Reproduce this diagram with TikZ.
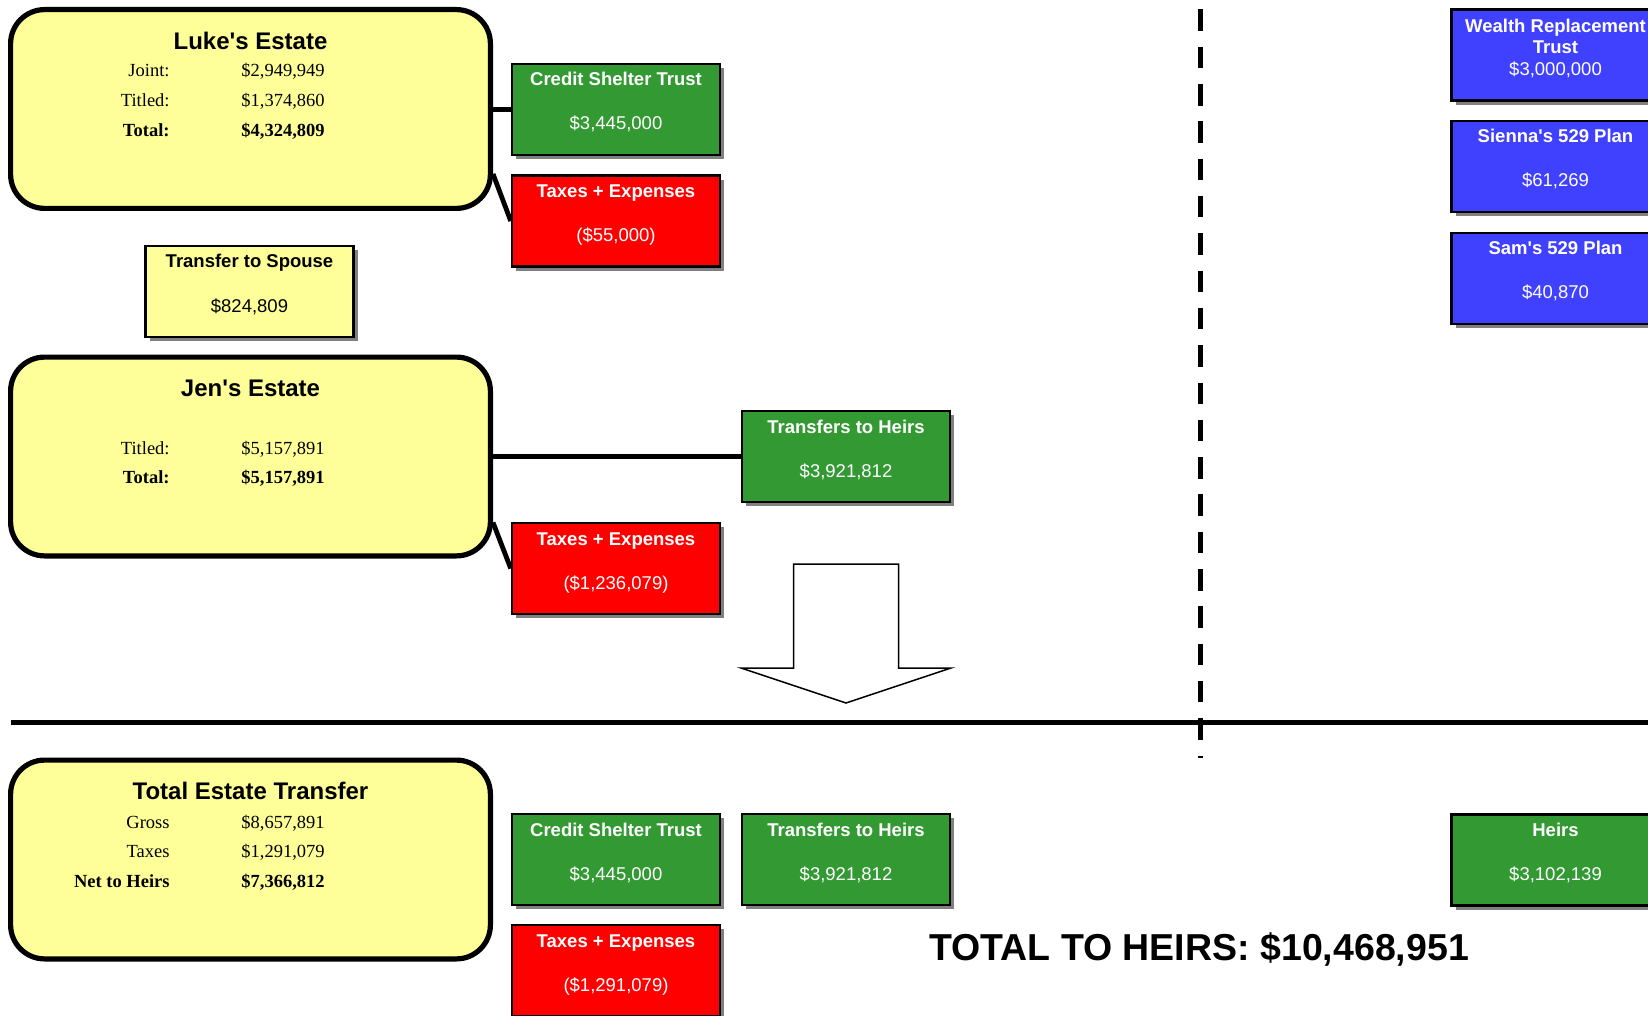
\documentclass[tikz,border=0pt]{standalone}
\usepackage{fontspec}
\setmainfont{Liberation Serif}
\setsansfont{Liberation Sans}
\usetikzlibrary{calc}
\usetikzlibrary{shadows}

\definecolor{estateyellow}{HTML}{FFFF99}
\definecolor{trustgreen}{HTML}{339933}
\definecolor{taxred}{HTML}{FF0000}
\definecolor{planblue}{HTML}{4040FF}
\definecolor{shadowgray}{HTML}{808080}

\begin{document}
\begin{tikzpicture}[
        x=0.5pt, y=-0.5pt,
        estate/.style={draw, line width=2.6pt, fill=estateyellow, rounded corners=17pt,
            minimum width=239.9pt, minimum height=99.4pt, inner sep=0pt},
        money/.style={draw, line width=1.25pt, minimum width=104pt, minimum height=45.5pt, inner sep=0pt,
            drop shadow={shadow xshift=2.2pt, shadow yshift=-2.2pt, fill=shadowgray, opacity=1}},
        estatettl/.style={anchor=base, inner sep=0pt, font=\sffamily\bfseries\fontsize{12}{14}\selectfont},
        rowlbl/.style={anchor=base east, inner sep=0pt, font=\fontsize{9.25}{11}\selectfont},
        rowval/.style={anchor=base west, inner sep=0pt, font=\fontsize{9.25}{11}\selectfont},
        boxttl/.style={anchor=base, inner sep=0pt, white, font=\sffamily\bfseries\fontsize{9.25}{11}\selectfont},
        boxval/.style={anchor=base, inner sep=0pt, white, font=\sffamily\fontsize{9.25}{11}\selectfont},
        link/.style={line width=2.4pt},
        bigarrow/.style={line width=0.75pt},
    ]
        \useasboundingbox (0,0) rectangle (1648,1016);

        % split lines
        \draw[line width=2.5pt, dash pattern=on 10.75pt off 7.9pt] (1200.5,9.5) -- (1200.5,758);
        \draw[line width=2.5pt] (10.5,722) -- (1648,722);

        % Luke
        \node[estate] (luke) at (250.5,109) {};
        \node[estatettl] (luket) at (250.5,49.5) {Luke\textquotesingle s Estate};
        \node[rowlbl] (lukeal) at (170,77) {Joint:};
        \node[rowval] (lukeav) at (241,77) {\$2,949,949};
        \node[rowlbl] (lukebl) at (170,107) {Titled:};
        \node[rowval] (lukebv) at (241,107) {\$1,374,860};
        \node[rowlbl, font=\bfseries\fontsize{9.25}{11}\selectfont] (lukecl) at (170,137) {Total:};
        \node[rowval, font=\bfseries\fontsize{9.25}{11}\selectfont] (lukecv) at (241,137) {\$4,324,809};

        \node[money, fill=trustgreen] (cst) at (616,109.5) {};
        \node[boxttl] (cstt) at ($(cst)+(0,-23.5)$) {Credit Shelter Trust};
        \node[boxval] (cstv) at ($(cst)+(0,20.5)$) {\$3,445,000};

        \node[money, fill=taxred] (taxa) at (616,221) {};
        \node[boxttl] (taxat) at ($(taxa)+(0,-23.5)$) {Taxes + Expenses};
        \node[boxval] (taxav) at ($(taxa)+(0,20.5)$) {(\$55,000)};

        \draw[link] (cst.west -| luke.east) -- (cst.west);
        \draw[link] ($(luke.south east)+(0,-37)$) -- (taxa.west);

        \node[money, fill=estateyellow] (spouse) at (249.5,291.5) {};
        \node[boxttl, black] (spouset) at ($(spouse)+(0,-23.5)$) {Transfer to Spouse};
        \node[boxval, black] (spousev) at ($(spouse)+(0,20.5)$) {\$824,809};

        % Jen
        \node[estate] (jen) at (250.5,456.5) {};
        \node[estatettl] (jent) at (250.5,396) {Jen\textquotesingle s Estate};
        \node[rowlbl] (jenal) at (170,454) {Titled:};
        \node[rowval] (jenav) at (241,454) {\$5,157,891};
        \node[rowlbl, font=\bfseries\fontsize{9.25}{11}\selectfont] (jenbl) at (170,483.5) {Total:};
        \node[rowval, font=\bfseries\fontsize{9.25}{11}\selectfont] (jenbv) at (241,483.5) {\$5,157,891};

        \node[money, fill=trustgreen] (heirsa) at (846,456.5) {};
        \node[boxttl] (heirsat) at ($(heirsa)+(0,-23.5)$) {Transfers to Heirs};
        \node[boxval] (heirsav) at ($(heirsa)+(0,20.5)$) {\$3,921,812};

        \node[money, fill=taxred] (taxb) at (616,568.5) {};
        \node[boxttl] (taxbt) at ($(taxb)+(0,-23.5)$) {Taxes + Expenses};
        \node[boxval] (taxbv) at ($(taxb)+(0,20.5)$) {(\$1,236,079)};

        \draw[link] (jen.east) -- (heirsa.west);
        \draw[link] ($(jen.south east)+(0,-36)$) -- (taxb.west);

        \draw[bigarrow] (793.5,564) -- (898.5,564) -- (898.5,668) -- (951,668) -- (846,703)
            -- (741,668) -- (793.5,668) -- cycle;

        % plans
        \node[money, fill=planblue] (wrt) at (1555.5,55) {};
        \node[boxttl] (wrtt) at ($(wrt)+(0,-22.5)$) {Wealth Replacement};
        \node[boxttl] (wrtu) at ($(wrt)+(0,-1.5)$) {Trust};
        \node[boxval] (wrtv) at ($(wrt)+(0,20.5)$) {\$3,000,000};

        \node[money, fill=planblue] (sienna) at (1555.5,166.5) {};
        \node[boxttl] (siennat) at ($(sienna)+(0,-23.5)$) {Sienna\textquotesingle s 529 Plan};
        \node[boxval] (siennav) at ($(sienna)+(0,20.5)$) {\$61,269};

        \node[money, fill=planblue] (sam) at (1555.5,278.5) {};
        \node[boxttl] (samt) at ($(sam)+(0,-23.5)$) {Sam\textquotesingle s 529 Plan};
        \node[boxval] (samv) at ($(sam)+(0,20.5)$) {\$40,870};

        % totals
        \node[estate] (total) at (250.5,859.5) {};
        \node[estatettl] (totalt) at (250.5,799.5) {Total Estate Transfer};
        \node[rowlbl] (totalal) at (170,828) {Gross};
        \node[rowval] (totalav) at (241,828) {\$8,657,891};
        \node[rowlbl] (totalbl) at (170,857) {Taxes};
        \node[rowval] (totalbv) at (241,857) {\$1,291,079};
        \node[rowlbl, font=\bfseries\fontsize{9.25}{11}\selectfont] (totalcl) at (170,887) {Net to Heirs};
        \node[rowval, font=\bfseries\fontsize{9.25}{11}\selectfont] (totalcv) at (241,887) {\$7,366,812};

        \node[money, fill=trustgreen] (cstb) at (616,859.5) {};
        \node[boxttl] (cstbt) at ($(cstb)+(0,-23.5)$) {Credit Shelter Trust};
        \node[boxval] (cstbv) at ($(cstb)+(0,20.5)$) {\$3,445,000};

        \node[money, fill=trustgreen] (heirsb) at (846,859.5) {};
        \node[boxttl] (heirsbt) at ($(heirsb)+(0,-23.5)$) {Transfers to Heirs};
        \node[boxval] (heirsbv) at ($(heirsb)+(0,20.5)$) {\$3,921,812};

        \node[money, fill=taxred] (taxc) at (616,970.5) {};
        \node[boxttl] (taxct) at ($(taxc)+(0,-23.5)$) {Taxes + Expenses};
        \node[boxval] (taxcv) at ($(taxc)+(0,20.5)$) {(\$1,291,079)};

        \node[money, fill=trustgreen] (heirsc) at (1555.5,860) {};
        \node[boxttl] (heirsct) at ($(heirsc)+(0,-23.5)$) {Heirs};
        \node[boxval] (heirscv) at ($(heirsc)+(0,20.5)$) {\$3,102,139};

        \node[anchor=base, inner sep=0pt, font=\sffamily\bfseries\fontsize{18.75}{22}\selectfont] (grand) at (1199,960) {TOTAL TO HEIRS: \$10,468,951};

    \end{tikzpicture}
\end{document}
